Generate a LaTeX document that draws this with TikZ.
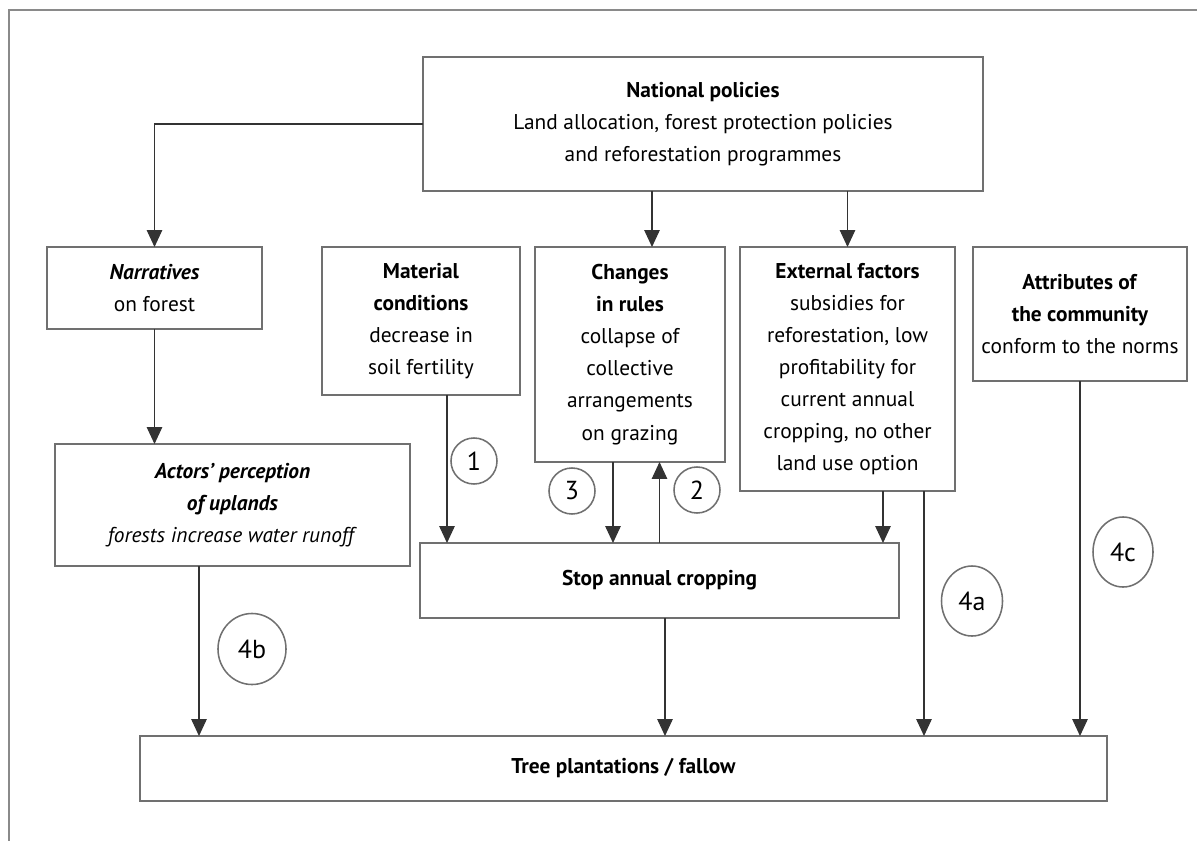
\documentclass[tikz,border=0pt]{standalone}
\usepackage{fontspec}
\setmainfont{PT Sans}
\usepackage{xcolor}
\usepackage{tikz}
\usetikzlibrary{arrows.meta,calc,shapes.geometric}

\definecolor{boxgray}{HTML}{707070}
\definecolor{linegray}{HTML}{333333}
\definecolor{framegray}{HTML}{8A8A8A}

\tikzset{
  box/.style={draw=boxgray, line width=1.1pt, align=center, inner sep=2pt, outer sep=0pt,
    font=\fontsize{15.2}{22.8}\selectfont},
  arr/.style={draw=linegray, line width=0.75pt, -{Triangle[length=12pt, width=11pt]}},
  num/.style={draw=boxgray, line width=1.1pt, circle, minimum size=1.15cm, inner sep=0pt,
    font=\fontsize{18.5}{20}\selectfont},
  numb/.style={draw=boxgray, line width=1.1pt, ellipse, inner sep=0pt,
    font=\fontsize{18.5}{20}\selectfont}
}

\begin{document}
\begin{tikzpicture}[x=0.025cm, y=-0.025cm]
\useasboundingbox (0,0) rectangle (1197,841);
% outer frame (top and left only)
\draw[framegray, line width=0.9pt] (9,841) -- (9,10) -- (1197,10);

% Top level
\node[box, minimum width=14cm, minimum height=3.35cm] (nat) at (703,124)
  {\textbf{National policies}\\Land allocation, forest protection policies\\and reforestation programmes};

% Second row
\node[box, minimum width=5.375cm, minimum height=2.05cm] (narr) at (154.5,288)
  {\textbf{\textit{Narratives}}\\on forest};
\node[box, minimum width=4.95cm, minimum height=3.7cm] (mat) at (421,321)
  {\textbf{Material}\\\textbf{conditions}\\decrease in\\soil fertility};
\node[box, minimum width=4.75cm, minimum height=5.375cm] (chg) at (630,354.5)
  {\textbf{Changes}\\\textbf{in rules}\\collapse of\\collective\\arrangements\\on grazing};
\node[box, minimum width=5.375cm, minimum height=6.1cm] (ext) at (847.5,369)
  {\textbf{External factors}\\subsidies for\\reforestation, low\\profitability for\\current annual\\cropping, no other\\land use option};
\node[box, minimum width=5.35cm, minimum height=3.35cm] (attr) at (1080,314)
  {\textbf{Attributes of}\\\textbf{the community}\\conform to the norms};

% Third row
\node[box, minimum width=8.875cm, minimum height=3.05cm] (act) at (232.5,505)
  {\textbf{\textit{Actors' perception}}\\\textbf{\textit{of uplands}}\\\textit{forests increase water runoff}};
\node[box, minimum width=11.975cm, minimum height=1.875cm] (stop) at (659.5,580.5)
  {\textbf{Stop annual cropping}};

% Outcome
\node[box, minimum width=24.175cm, minimum height=1.625cm] (tree) at (623.5,768.5)
  {\textbf{Tree plantations / fallow}};

% Connectors from national policies
\draw[arr] (nat.west) -| (narr.north);
\coordinate (n1) at ($(nat.south)+(-51,0)$);
\draw[arr] (n1) -- (n1 |- chg.north);
\draw[arr] (nat.south -| ext.north) -- (ext.north);

% Left branch
\draw[arr] (narr.south) -- (narr.south |- act.north);
\coordinate (a1) at ($(act.south)+(-33.5,0)$);
\draw[arr] (a1) -- (a1 |- tree.north);

% Into and out of stop annual cropping
\coordinate (m1) at ($(mat.south)+(26,0)$);
\draw[arr] (m1) -- (m1 |- stop.north);
\coordinate (c1) at ($(chg.south)+(-17,0)$);
\draw[arr] (c1) -- (c1 |- stop.north);
\draw[arr] (stop.north) -- (stop.north |- chg.south);
\coordinate (e1) at ($(ext.south)+(35.5,0)$);
\draw[arr] (e1) -- (e1 |- stop.north);
\coordinate (s1) at ($(stop.south)+(5.5,0)$);
\draw[arr] (s1) -- (s1 |- tree.north);

% Direct paths to tree plantations
\coordinate (e2) at ($(ext.south)+(76.5,0)$);
\draw[arr] (e2) -- (e2 |- tree.north);
\draw[arr] (attr.south) -- (attr.south |- tree.north);

% Numbered pathways
\node[num] (p1) at (474,461) {1};
\node[num] (p2) at (697,490) {2};
\node[num] (p3) at (572,491) {3};
\node[numb, minimum width=1.525cm, minimum height=1.75cm] (p4a) at (972,601) {4a};
\node[numb, minimum width=1.7cm, minimum height=1.775cm] (p4b) at (252,649) {4b};
\node[numb, minimum width=1.5cm, minimum height=1.75cm] (p4c) at (1123,552) {4c};
\end{tikzpicture}
\end{document}
